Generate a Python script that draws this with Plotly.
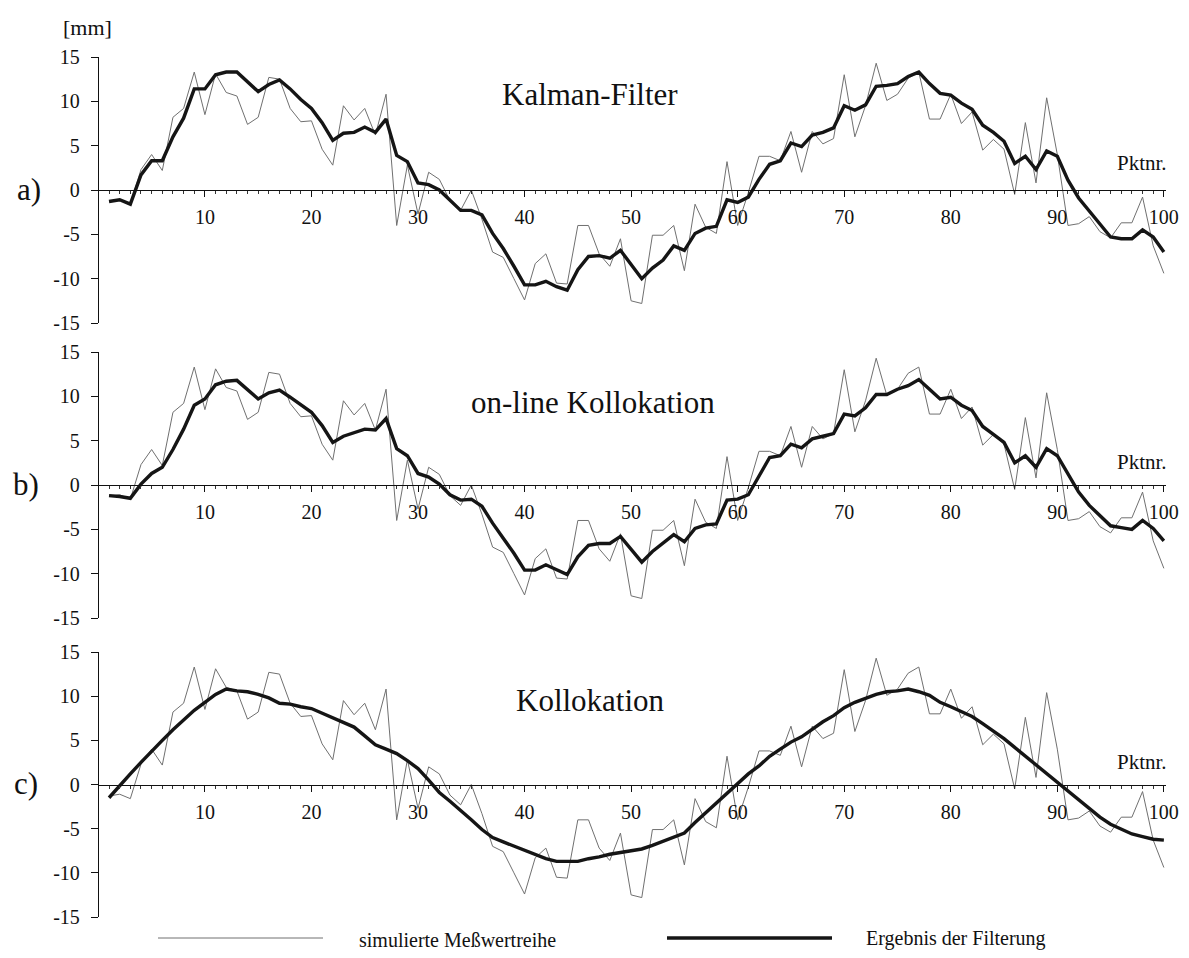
import plotly.graph_objects as go

W, H = 1189, 958

points = list(range(1, 101))

simulated = [
    -1.3, -1.1, -1.6, 2.3, 4.0, 2.2, 8.2, 9.2, 13.3, 8.5,
    13.1, 11.0, 10.6, 7.4, 8.2, 12.7, 12.5, 9.2, 7.7, 7.8,
    4.6, 2.8, 9.5, 7.9, 9.2, 6.2, 10.8, -4.0, 2.8, -2.7,
    2.0, 1.2, -1.2, -2.3, 0.0, -3.3, -7.0, -7.6, -10.0, -12.4,
    -8.3, -7.2, -10.5, -10.6, -4.0, -4.0, -7.2, -8.6, -5.5, -12.5,
    -12.8, -5.1, -5.1, -4.0, -9.1, -1.6, -4.2, -4.9, 3.2, -4.0,
    -0.3, 3.8, 3.8, 3.3, 6.6, 2.0, 6.6, 5.2, 5.8, 13.0,
    6.0, 9.5, 14.3, 10.1, 10.8, 12.6, 13.3, 8.0, 8.0, 10.8,
    7.5, 8.8, 4.5, 5.7, 4.6, -0.5, 7.6, 0.8, 10.4, 4.0,
    -4.0, -3.8, -3.0, -4.7, -5.4, -3.7, -3.7, -0.8, -6.3, -9.4,
]

kalman = [
    -1.3, -1.1, -1.6, 1.7, 3.3, 3.3, 6.0, 8.1, 11.4, 11.4,
    13.0, 13.3, 13.3, 12.2, 11.1, 11.9, 12.4, 11.4, 10.2, 9.2,
    7.6, 5.6, 6.4, 6.5, 7.1, 6.5, 8.0, 3.9, 3.2, 0.8,
    0.6, 0.0, -1.1, -2.3, -2.3, -2.8, -4.9, -6.6, -8.6, -10.7,
    -10.7, -10.3, -10.9, -11.3, -9.0, -7.5, -7.4, -7.7, -6.8, -8.4,
    -10.0, -8.8, -7.9, -6.3, -6.8, -4.9, -4.3, -4.1, -1.1, -1.4,
    -0.8, 1.2, 2.9, 3.3, 5.3, 4.9, 6.2, 6.5, 7.0, 9.5,
    9.0, 9.6, 11.7, 11.8, 12.0, 12.8, 13.3, 12.0, 10.9, 10.7,
    9.8, 9.1, 7.3, 6.5, 5.5, 3.0, 3.8, 2.3, 4.4, 3.8,
    1.1, -0.9, -2.4, -3.9, -5.3, -5.5, -5.5, -4.5, -5.3, -7.0,
]

online_kollokation = [
    -1.2, -1.3, -1.5, 0.1, 1.3, 2.0, 4.0, 6.3, 9.0, 9.7,
    11.3, 11.7, 11.8, 10.8, 9.7, 10.4, 10.7, 9.9, 9.0, 8.2,
    6.7, 4.8, 5.5, 5.9, 6.3, 6.2, 7.5, 4.1, 3.3, 1.3,
    0.9, 0.1, -1.1, -1.7, -1.6, -2.4, -4.3, -6.0, -7.7, -9.6,
    -9.6, -9.0, -9.6, -10.1, -8.1, -6.8, -6.6, -6.6, -5.8, -7.3,
    -8.7, -7.5, -6.6, -5.6, -6.4, -4.9, -4.5, -4.4, -1.7, -1.6,
    -1.1, 1.1, 3.1, 3.3, 4.6, 4.2, 5.2, 5.5, 5.8, 8.0,
    7.8, 8.7, 10.2, 10.2, 10.8, 11.2, 11.9, 10.8, 9.7, 9.9,
    9.0, 8.4, 6.6, 5.7, 4.8, 2.5, 3.3, 2.0, 4.1, 3.3,
    1.2, -0.8, -2.3, -3.4, -4.6, -4.8, -5.0, -4.0, -4.9, -6.3,
]

kollokation = [
    -1.5, -0.1, 1.2, 2.5, 3.8, 5.0, 6.2, 7.3, 8.4, 9.3,
    10.2, 10.8, 10.6, 10.5, 10.2, 9.8, 9.2, 9.1, 8.8, 8.6,
    8.1, 7.5, 7.1, 6.5, 5.5, 4.5, 4.0, 3.5, 2.7, 1.8,
    0.5, -0.9, -1.9, -2.9, -4.0, -5.1, -6.0, -6.5, -7.0, -7.5,
    -7.9, -8.4, -8.7, -8.7, -8.7, -8.4, -8.2, -7.9, -7.7, -7.5,
    -7.3, -6.9, -6.4, -6.0, -5.5, -4.3, -3.2, -2.1, -0.9, 0.2,
    1.2, 2.1, 3.2, 4.0, 4.8, 5.4, 6.3, 7.1, 7.8, 8.7,
    9.3, 9.8, 10.2, 10.5, 10.6, 10.8, 10.5, 10.1, 9.3, 8.8,
    8.3, 7.7, 6.9, 6.1, 5.2, 4.2, 3.2, 2.2, 1.2, 0.3,
    -0.7, -1.8, -2.8, -3.7, -4.5, -5.1, -5.6, -5.9, -6.2, -6.3,
]

panel_titles = ["Kalman-Filter", "on-line Kollokation", "Kollokation"]
panel_letters = ["a)", "b)", "c)"]
filtered_series = [kalman, online_kollokation, kollokation]
x_ticks = [10, 20, 30, 40, 50, 60, 70, 80, 90, 100]
y_ticks = [-15, -10, -5, 0, 5, 10, 15]
legend_labels = ["simulierte Meßwertreihe", "Ergebnis der Filterung"]

FONT = "Liberation Serif"
THIN_COLOR = "#707070"
THICK_COLOR = "#151515"


def px(x):
    return x / W


def py(y):
    return 1 - y / H


# panel pixel geometry (top of +15, bottom of -15)
panels_px = [(57, 323), (352, 618), (652, 917)]
title_px = [(590, 95), (593, 403), (590, 700)]
letter_px = [(29, 190), (26, 485), (26, 783)]

fig = go.Figure()
layout = dict(
    template="none",
    width=W, height=H,
    margin=dict(l=0, r=0, t=0, b=0, pad=0, autoexpand=False),
    paper_bgcolor="white", plot_bgcolor="white",
    showlegend=False,
    font=dict(family=FONT, color="#111"),
)
annotations = []
shapes = []

x_domain = [px(99), px(1166)]

for i in range(3):
    sfx = "" if i == 0 else str(i + 1)
    xa, ya = "x" + sfx, "y" + sfx
    top, bot = panels_px[i]
    ydom = [py(bot), py(top)]
    zero_pos = (ydom[0] + ydom[1]) / 2

    fig.add_trace(go.Scatter(x=points, y=simulated, mode="lines",
                             line=dict(color=THIN_COLOR, width=1.0),
                             xaxis=xa, yaxis=ya, name=legend_labels[0]))
    fig.add_trace(go.Scatter(x=points, y=filtered_series[i], mode="lines",
                             line=dict(color=THICK_COLOR, width=3.4),
                             xaxis=xa, yaxis=ya, name=legend_labels[1]))

    layout["xaxis" + sfx] = dict(
        domain=x_domain, range=[0.06, 100.2], anchor="free", position=zero_pos,
        automargin=False,
        showline=True, linecolor="#111", linewidth=1.3, showgrid=False, zeroline=False,
        tickmode="array", tickvals=x_ticks, ticktext=[str(t) for t in x_ticks],
        ticks="outside", ticklen=6, tickwidth=1.3, tickcolor="#111",
        minor=dict(tickmode="linear", tick0=0, dtick=1, ticks="outside", ticklen=3,
                   tickwidth=1, tickcolor="#333", showgrid=False),
        tickfont=dict(family=FONT, size=20, color="#111"),
        ticklabelstandoff=3,
    )
    layout["yaxis" + sfx] = dict(
        domain=ydom, range=[-15, 15], anchor=xa,
        automargin=False,
        showline=True, linecolor="#111", linewidth=1.3, showgrid=False, zeroline=False,
        tickmode="array", tickvals=y_ticks, ticktext=[str(t) for t in y_ticks],
        ticks="outside", ticklen=7, tickwidth=1.3, tickcolor="#111",
        tickfont=dict(family=FONT, size=20, color="#111"),
        ticklabelstandoff=7,
    )

    tx, ty = title_px[i]
    annotations.append(dict(text=panel_titles[i], x=px(tx), y=py(ty), xref="paper", yref="paper",
                            showarrow=False, xanchor="center", yanchor="middle",
                            font=dict(family=FONT, size=31, color="#111")))
    lx, ly = letter_px[i]
    annotations.append(dict(text=panel_letters[i], x=px(lx), y=py(ly), xref="paper", yref="paper",
                            showarrow=False, xanchor="center", yanchor="middle",
                            font=dict(family=FONT, size=31, color="#111")))
    annotations.append(dict(text="Pktnr.", x=px(1142), y=py([163, 462, 762][i]), xref="paper", yref="paper",
                            showarrow=False, xanchor="center", yanchor="middle",
                            font=dict(family=FONT, size=21, color="#111")))

annotations.append(dict(text="[mm]", x=px(87), y=py(28), xref="paper", yref="paper",
                        showarrow=False, xanchor="center", yanchor="middle",
                        font=dict(family=FONT, size=22, color="#111")))

# legend row
leg_y = 938
shapes.append(dict(type="line", xref="paper", yref="paper", x0=px(158), x1=px(323),
                   y0=py(leg_y), y1=py(leg_y), line=dict(color=THIN_COLOR, width=1.0)))
shapes.append(dict(type="line", xref="paper", yref="paper", x0=px(667), x1=px(832),
                   y0=py(leg_y), y1=py(leg_y), line=dict(color=THICK_COLOR, width=3.4)))
annotations.append(dict(text=legend_labels[0], x=px(357), y=py(leg_y + 2), xref="paper", yref="paper",
                        showarrow=False, xanchor="left", yanchor="middle",
                        font=dict(family=FONT, size=20, color="#111")))
annotations.append(dict(text=legend_labels[1], x=px(864), y=py(leg_y), xref="paper", yref="paper",
                        showarrow=False, xanchor="left", yanchor="middle",
                        font=dict(family=FONT, size=20, color="#111")))

layout["annotations"] = annotations
layout["shapes"] = shapes
fig.update_layout(**layout)

fig.write_html(
    "out.html",
    config={"displayModeBar": False},
    post_script="document.body.style.margin='0';document.body.style.overflow='hidden';",
)
